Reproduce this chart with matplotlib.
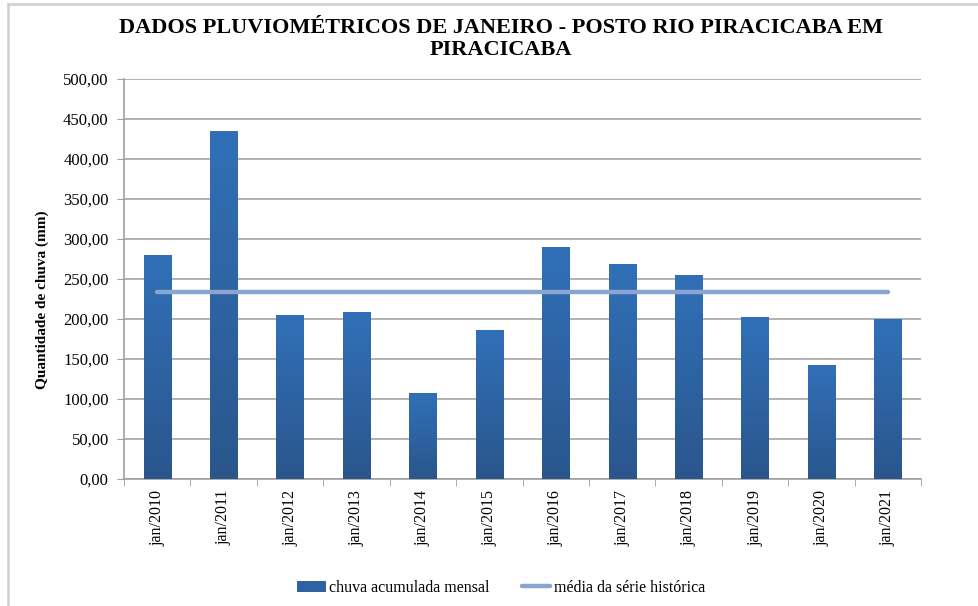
import numpy as np
import matplotlib
matplotlib.use("Agg")
import matplotlib.pyplot as plt
from matplotlib.lines import Line2D
from matplotlib.patches import Patch

# dados
meses = ["jan/2010", "jan/2011", "jan/2012", "jan/2013", "jan/2014", "jan/2015",
         "jan/2016", "jan/2017", "jan/2018", "jan/2019", "jan/2020", "jan/2021"]
chuva = [280, 434, 205, 208, 107, 186, 290, 268, 255, 202, 142, 199]
media = 234
yticks = [0, 50, 100, 150, 200, 250, 300, 350, 400, 450, 500]

plt.rcParams['font.family'] = ['Liberation Serif', 'DejaVu Serif']

fig = plt.figure(figsize=(9.79, 6.06), dpi=100)
ax = fig.add_axes([124/979, 1-479/606, (921-124)/979, 400/606])

x = np.arange(len(meses))
bars = ax.bar(x, chuva, width=0.41, color="#2f62a3", zorder=3)

# gradiente nas barras (claro em cima, escuro em baixo)
grad = np.linspace(0, 1, 256).reshape(-1, 1)
cmap = matplotlib.colors.LinearSegmentedColormap.from_list("b", ["#2a568c", "#3170b8"])
for b in bars:
    bx, by = b.get_x(), b.get_y()
    w, h = b.get_width(), b.get_height()
    ax.imshow(grad, extent=[bx, bx+w, by, by+h], origin="lower", cmap=cmap,
              aspect="auto", zorder=3)
ax.set_xlim(-0.5, len(meses)-0.5)

ax.plot(x, [media]*len(x), color="#8aa5cf", lw=3.2, solid_capstyle="round", zorder=4)

ax.set_ylim(0, 500)
ax.set_yticks(yticks)
ax.set_yticklabels([("%.2f" % v).replace(".", ",") for v in yticks], fontsize=12)
ax.set_xticks(x)
ax.set_xticklabels(meses, rotation=90, fontsize=11.5)
ax.set_xticks(np.arange(-0.5, len(meses), 1), minor=True)
ax.tick_params(axis="x", which="major", length=0, pad=8)
ax.tick_params(axis="x", which="minor", length=5, color="#a0a0a0")
ax.tick_params(axis="y", length=5, color="#a0a0a0", pad=6)
ax.grid(axis="y", color="#a6a6a6", lw=1.2, zorder=0)
ax.set_axisbelow(True)
for s in ["top", "right"]:
    ax.spines[s].set_visible(False)
for s in ["left", "bottom"]:
    ax.spines[s].set_color("#a0a0a0")
    ax.spines[s].set_linewidth(1.2)

ax.set_ylabel("Quantidade de chuva (mm)", fontsize=11, fontweight="bold")
ax.yaxis.set_label_coords(-0.094, 0.4475)

fig.text(501/979, 1-39/606, "DADOS PLUVIOMÉTRICOS DE JANEIRO - POSTO RIO PIRACICABA EM\nPIRACICABA",
         ha="center", va="center", fontsize=16, fontweight="bold", linespacing=1.1,
         family=["Liberation Serif", "DejaVu Serif"])

handles = [Patch(facecolor="#2f62a3"),
           Line2D([0], [0], color="#8aa5cf", lw=3.2, solid_capstyle="round")]
fig.legend(handles, ["chuva acumulada mensal", "média da série histórica"],
           loc="center", bbox_to_anchor=(501/979, 1-588/606), ncol=2, frameon=False,
           fontsize=11.5, handlelength=1.8, handletextpad=0.2, columnspacing=2.0)

# moldura cinza do grafico
fig.add_artist(Line2D([8/979, 1], [1-4/606, 1-4/606], color="#cfcfcf", lw=1.8))
fig.add_artist(Line2D([8/979, 8/979], [0, 1-4/606], color="#cfcfcf", lw=1.8))

fig.savefig("out.png", dpi=100)
